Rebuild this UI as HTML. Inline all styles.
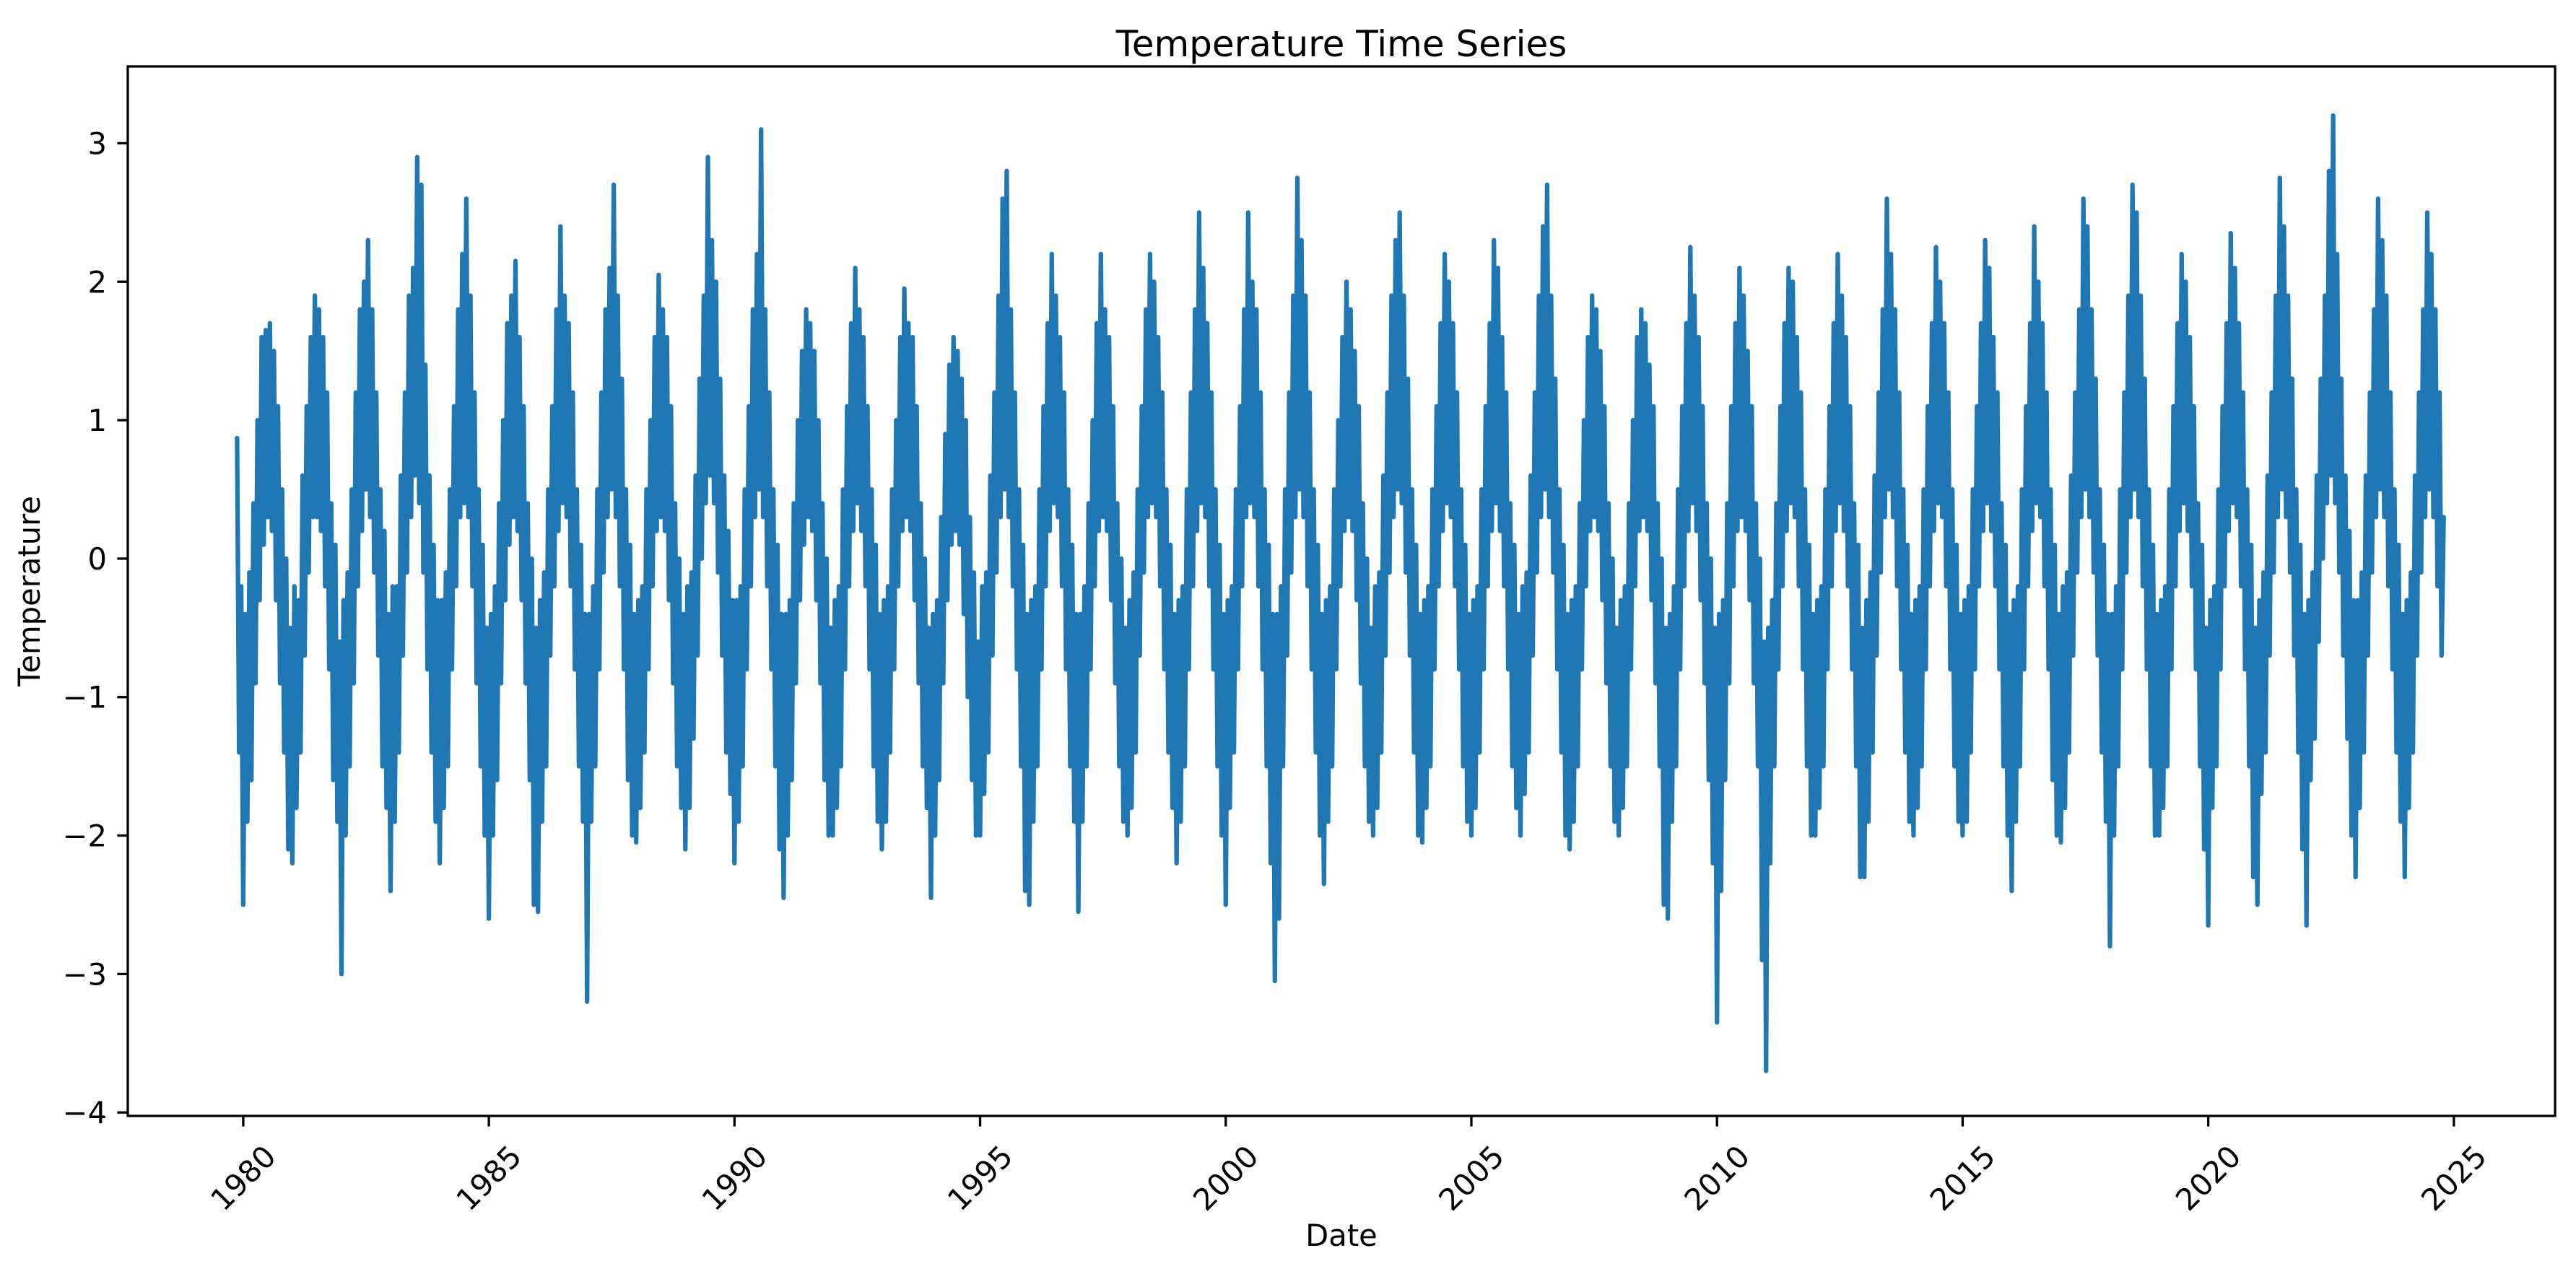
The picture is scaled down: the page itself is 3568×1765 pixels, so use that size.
<!DOCTYPE html>
<html><head><meta charset="utf-8"><style>
html,body{margin:0;padding:0;background:#fff;}
svg{display:block;font-family:"DejaVu Sans","Liberation Sans",sans-serif;}
</style></head><body>
<svg id="chart" width="3568" height="1765" viewBox="0 0 3568 1765" xmlns="http://www.w3.org/2000/svg">
<rect width="3568" height="1765" fill="#fff"/>
<text x="1858" y="78" font-size="50" text-anchor="middle">Temperature Time Series</text>
<g id="series"></g>
<g id="axes"></g>
<text x="1858" y="1726" font-size="41.7" text-anchor="middle">Date</text>
<text transform="translate(55,819) rotate(-90)" font-size="41.7" text-anchor="middle">Temperature</text>
</svg>
<script>
const startYear = 1979;
const startStep = 21;
const stepsPerYear = 24;
const temps = [
0.87,-1.4,-0.2,
-2.5,-0.4,-1.9,-0.1,-1.6,0.4,-0.9,1.0,-0.3,1.6,0.1,1.65,0.3,1.7,0.2,1.5,-0.3,1.1,-0.9,0.5,-1.4,0.0,-2.1,-0.5,
-2.2,-0.2,-1.8,-0.3,-1.4,0.6,-0.7,1.1,-0.1,1.6,0.3,1.9,0.3,1.8,0.2,1.6,-0.2,1.2,-0.8,0.4,-1.6,0.1,-1.9,-0.6,
-3.0,-0.3,-2.0,-0.1,-1.5,0.5,-0.9,1.2,-0.2,1.8,0.2,2.0,0.5,2.3,0.3,1.8,-0.1,1.2,-0.7,0.5,-1.5,0.2,-1.8,-0.4,
-2.4,-0.2,-1.9,-0.2,-1.4,0.6,-0.7,1.2,-0.1,1.9,0.3,2.1,0.6,2.9,0.4,2.7,-0.1,1.4,-0.8,0.6,-1.4,0.1,-1.9,-0.3,
-2.2,-0.3,-1.8,-0.1,-1.5,0.5,-0.8,1.1,-0.2,1.8,0.3,2.2,0.4,2.6,0.3,1.9,-0.2,1.2,-0.9,0.5,-1.5,0.1,-2.0,-0.5,
-2.6,-0.4,-2.0,-0.2,-1.6,0.4,-0.9,1.0,-0.3,1.7,0.1,1.9,0.3,2.15,0.2,1.6,-0.3,1.1,-0.9,0.4,-1.6,0.0,-2.5,-0.5,
-2.55,-0.3,-1.9,-0.1,-1.5,0.5,-0.7,1.1,-0.2,1.8,0.2,2.4,0.4,1.9,0.3,1.7,-0.2,1.2,-0.8,0.5,-1.5,0.1,-1.9,-0.4,
-3.2,-0.4,-1.9,-0.2,-1.5,0.5,-0.8,1.2,-0.1,1.8,0.3,2.1,0.5,2.7,0.3,1.9,-0.2,1.3,-0.8,0.5,-1.6,0.1,-2.0,-0.4,
-2.05,-0.3,-1.8,-0.2,-1.4,0.5,-0.8,1.0,-0.2,1.6,0.2,2.05,0.3,1.8,0.2,1.6,-0.3,1.1,-0.9,0.4,-1.5,0.0,-1.8,-0.4,
-2.1,-0.2,-1.8,-0.1,-1.3,0.6,-0.7,1.3,0.0,1.9,0.4,2.9,0.6,2.3,0.4,2.0,-0.1,1.3,-0.7,0.6,-1.4,0.2,-1.7,-0.3,
-2.2,-0.3,-1.9,-0.2,-1.5,0.5,-0.8,1.1,-0.2,1.8,0.3,2.2,0.5,3.1,0.3,1.8,-0.2,1.2,-0.8,0.5,-1.5,0.1,-2.1,-0.4,
-2.45,-0.4,-2.0,-0.3,-1.6,0.4,-0.9,1.0,-0.3,1.5,0.1,1.8,0.3,1.7,0.2,1.5,-0.3,1.0,-0.9,0.4,-1.6,0.0,-2.0,-0.5,
-2.0,-0.3,-1.8,-0.2,-1.5,0.5,-0.8,1.1,-0.2,1.7,0.2,2.1,0.4,1.8,0.2,1.6,-0.2,1.1,-0.8,0.5,-1.5,0.1,-1.9,-0.4,
-2.1,-0.3,-1.9,-0.2,-1.4,0.5,-0.8,1.0,-0.2,1.6,0.2,1.95,0.3,1.7,0.2,1.6,-0.3,1.1,-0.9,0.4,-1.5,0.0,-1.8,-0.5,
-2.45,-0.4,-2.0,-0.3,-1.6,0.3,-0.9,0.9,-0.3,1.4,0.1,1.6,0.2,1.5,0.1,1.3,-0.4,1.0,-1.0,0.3,-1.6,-0.1,-2.0,-0.6,
-2.0,-0.2,-1.7,-0.1,-1.4,0.6,-0.7,1.2,-0.1,1.9,0.3,2.6,0.5,2.8,0.3,1.8,-0.2,1.2,-0.8,0.5,-1.5,0.1,-2.4,-0.4,
-2.5,-0.3,-1.9,-0.2,-1.5,0.5,-0.8,1.1,-0.2,1.7,0.2,2.2,0.4,1.9,0.3,1.6,-0.2,1.2,-0.8,0.5,-1.5,0.1,-1.9,-0.4,
-2.55,-0.4,-1.9,-0.2,-1.5,0.4,-0.8,1.0,-0.2,1.7,0.2,2.2,0.3,1.8,0.2,1.6,-0.3,1.1,-0.9,0.4,-1.5,0.0,-1.9,-0.5,
-2.0,-0.3,-1.8,-0.1,-1.4,0.5,-0.7,1.1,-0.1,1.8,0.3,2.2,0.4,2.0,0.3,1.6,-0.2,1.2,-0.8,0.5,-1.4,0.1,-1.8,-0.4,
-2.2,-0.3,-1.9,-0.2,-1.5,0.5,-0.8,1.2,-0.2,1.8,0.2,2.5,0.4,2.1,0.3,1.7,-0.2,1.2,-0.8,0.5,-1.5,0.1,-2.0,-0.4,
-2.5,-0.3,-1.8,-0.2,-1.4,0.5,-0.8,1.1,-0.2,1.8,0.3,2.5,0.4,2.0,0.3,1.8,-0.2,1.2,-0.8,0.5,-1.5,0.1,-2.2,-0.4,
-3.05,-0.4,-2.6,-0.2,-1.5,0.5,-0.7,1.2,-0.1,1.9,0.3,2.75,0.5,2.3,0.3,1.9,-0.2,1.2,-0.8,0.5,-1.4,0.1,-2.0,-0.4,
-2.35,-0.3,-1.9,-0.2,-1.5,0.5,-0.8,1.0,-0.2,1.6,0.2,2.0,0.3,1.8,0.2,1.5,-0.3,1.1,-0.9,0.4,-1.5,0.0,-1.9,-0.5,
-2.0,-0.2,-1.8,-0.1,-1.4,0.6,-0.7,1.2,-0.1,1.9,0.3,2.3,0.5,2.5,0.4,1.9,-0.1,1.3,-0.7,0.5,-1.4,0.1,-2.0,-0.4,
-2.05,-0.3,-1.8,-0.2,-1.5,0.5,-0.8,1.1,-0.2,1.7,0.2,2.2,0.4,2.0,0.3,1.7,-0.2,1.2,-0.8,0.5,-1.5,0.1,-1.9,-0.4,
-2.0,-0.3,-1.8,-0.2,-1.4,0.5,-0.8,1.1,-0.2,1.7,0.2,2.3,0.4,2.1,0.2,1.6,-0.2,1.2,-0.8,0.4,-1.5,0.1,-1.8,-0.4,
-2.0,-0.2,-1.7,-0.1,-1.4,0.6,-0.7,1.2,-0.1,1.9,0.3,2.4,0.5,2.7,0.3,1.9,-0.1,1.3,-0.8,0.5,-1.4,0.1,-2.0,-0.4,
-2.1,-0.3,-1.9,-0.2,-1.5,0.4,-0.8,1.0,-0.2,1.6,0.2,1.9,0.3,1.8,0.2,1.5,-0.3,1.1,-0.9,0.4,-1.5,0.0,-1.9,-0.5,
-2.0,-0.3,-1.8,-0.2,-1.5,0.4,-0.8,1.0,-0.2,1.6,0.2,1.8,0.3,1.7,0.2,1.4,-0.3,1.1,-0.9,0.4,-1.5,0.0,-2.5,-0.5,
-2.6,-0.4,-1.9,-0.2,-1.5,0.5,-0.8,1.1,-0.2,1.7,0.2,2.25,0.4,1.9,0.2,1.6,-0.3,1.1,-0.9,0.4,-1.6,0.0,-2.2,-0.5,
-3.35,-0.4,-2.4,-0.3,-1.6,0.4,-0.9,1.1,-0.2,1.7,0.2,2.1,0.3,1.9,0.2,1.5,-0.3,1.1,-0.9,0.4,-1.5,0.0,-2.9,-0.6,
-3.7,-0.5,-2.2,-0.3,-1.5,0.4,-0.8,1.1,-0.2,1.7,0.2,2.1,0.4,2.0,0.3,1.6,-0.2,1.2,-0.8,0.5,-1.5,0.1,-2.0,-0.4,
-2.0,-0.3,-1.8,-0.2,-1.5,0.5,-0.8,1.1,-0.2,1.7,0.2,2.2,0.4,1.9,0.2,1.6,-0.2,1.1,-0.8,0.4,-1.5,0.1,-2.3,-0.5,
-2.3,-0.3,-1.9,-0.1,-1.4,0.6,-0.7,1.2,-0.1,1.8,0.3,2.6,0.5,2.2,0.3,1.8,-0.2,1.2,-0.8,0.5,-1.4,0.1,-1.9,-0.4,
-2.0,-0.3,-1.8,-0.2,-1.5,0.5,-0.8,1.1,-0.2,1.7,0.2,2.25,0.4,2.0,0.3,1.7,-0.2,1.2,-0.8,0.5,-1.5,0.1,-1.9,-0.4,
-2.0,-0.3,-1.9,-0.2,-1.4,0.5,-0.8,1.1,-0.2,1.7,0.2,2.3,0.4,2.1,0.2,1.6,-0.2,1.2,-0.8,0.4,-1.5,0.1,-2.0,-0.4,
-2.4,-0.3,-1.9,-0.2,-1.5,0.5,-0.8,1.1,-0.2,1.7,0.2,2.4,0.4,2.0,0.3,1.7,-0.2,1.2,-0.8,0.5,-1.6,0.1,-2.0,-0.4,
-2.05,-0.2,-1.8,-0.1,-1.4,0.6,-0.7,1.2,-0.1,1.8,0.3,2.6,0.5,2.4,0.3,1.8,-0.1,1.3,-0.7,0.5,-1.4,0.1,-1.9,-0.4,
-2.8,-0.4,-2.0,-0.2,-1.5,0.5,-0.8,1.2,-0.1,1.9,0.3,2.7,0.5,2.5,0.3,1.9,-0.2,1.3,-0.8,0.5,-1.5,0.1,-2.0,-0.4,
-2.0,-0.3,-1.8,-0.2,-1.5,0.5,-0.8,1.1,-0.2,1.7,0.2,2.2,0.4,2.0,0.2,1.6,-0.2,1.1,-0.8,0.4,-1.5,0.1,-2.1,-0.5,
-2.65,-0.3,-1.8,-0.2,-1.5,0.5,-0.8,1.1,-0.2,1.7,0.2,2.35,0.4,2.1,0.3,1.7,-0.2,1.2,-0.8,0.5,-1.5,0.1,-2.3,-0.5,
-2.5,-0.3,-1.7,-0.1,-1.4,0.6,-0.7,1.2,-0.1,1.9,0.3,2.75,0.5,2.4,0.3,1.9,-0.1,1.3,-0.7,0.5,-1.4,0.1,-2.1,-0.4,
-2.65,-0.3,-1.6,-0.1,-1.3,0.6,-0.6,1.3,0.0,1.9,0.4,2.8,0.6,3.2,0.4,2.2,-0.1,1.3,-0.7,0.6,-1.3,0.2,-2.0,-0.3,
-2.3,-0.3,-1.8,-0.1,-1.4,0.6,-0.7,1.2,-0.1,1.8,0.3,2.6,0.5,2.3,0.3,1.9,-0.2,1.2,-0.8,0.5,-1.4,0.1,-1.9,-0.4,
-2.3,-0.3,-1.8,-0.1,-1.4,0.6,-0.7,1.2,-0.1,1.8,0.3,2.5,0.5,2.2,0.3,1.8,-0.2,1.2,-0.7,0.3
];
const xTickYears = [1980,1985,1990,1995,2000,2005,2010,2015,2020,2025];
const yTickValues = [3,2,1,0,-1,-2,-3,-4];
const yTickLabels = ["3","2","1","0","\u22121","\u22122","\u22123","\u22124"];

const NS = "http://www.w3.org/2000/svg";
const plot = {left:177, right:3539, top:92, bottom:1546};
const xDomain = [1977.65, 2027.06];
const yDomain = [-4.025, 3.555];
function xScale(v){return plot.left + (v - xDomain[0]) / (xDomain[1] - xDomain[0]) * (plot.right - plot.left);}
function yScale(v){return plot.bottom - (v - yDomain[0]) / (yDomain[1] - yDomain[0]) * (plot.bottom - plot.top);}
function mk(tag, attrs){const e=document.createElementNS(NS,tag);for(const k in attrs)e.setAttribute(k,attrs[k]);return e;}

const series = document.getElementById('series');
const pts = temps.map((v,i)=>{const t = startYear + (startStep + i)/stepsPerYear; return xScale(t).toFixed(1)+','+yScale(v).toFixed(1);});
const line = mk('polyline',{points:pts.join(' '),fill:'none',stroke:'#1f77b4','stroke-width':'6.25','stroke-linejoin':'round','stroke-linecap':'round'});


series.appendChild(line);

const axes = document.getElementById('axes');
xTickYears.forEach(yr=>{
  const x = xScale(yr);
  const t = mk('line',{x1:x,x2:x,y1:plot.bottom,y2:plot.bottom+14.6,stroke:'#000','stroke-width':'3.3'});
  
  
  axes.appendChild(t);
  const lb = mk('text',{x:0,y:0,'font-size':'41.7','text-anchor':'middle','dominant-baseline':'central',transform:'translate('+x+',1632) rotate(-45)'});
  lb.textContent = String(yr);
  
  
  axes.appendChild(lb);
});
yTickValues.forEach((v,i)=>{
  const y = yScale(v);
  const t = mk('line',{x1:plot.left-14.6,x2:plot.left,y1:y,y2:y,stroke:'#000','stroke-width':'3.3'});
  
  
  axes.appendChild(t);
  const lb = mk('text',{x:plot.left-29,y:y+15,'font-size':'41.7','text-anchor':'end'});
  lb.textContent = yTickLabels[i];
  
  
  axes.appendChild(lb);
});
const frame = mk('rect',{x:plot.left,y:plot.top,width:plot.right-plot.left,height:plot.bottom-plot.top,fill:'none',stroke:'#000','stroke-width':'3.3'});


axes.appendChild(frame);
</script>
</body></html>
